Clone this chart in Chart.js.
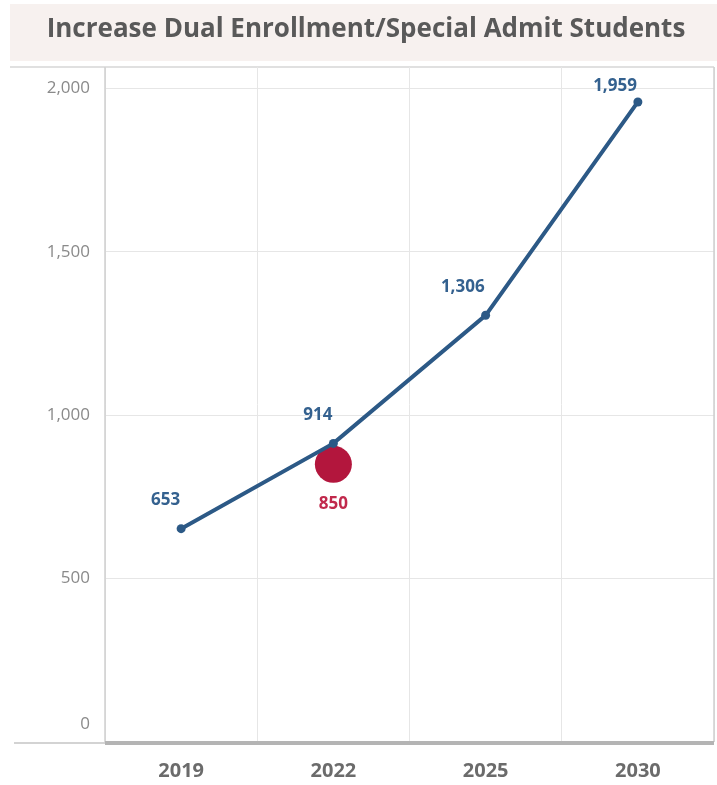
<!DOCTYPE html>
<html>
<head>
<meta charset="utf-8">
<script src="https://cdn.jsdelivr.net/npm/chart.js@4/dist/chart.umd.min.js"></script>
<style>
  html, body { margin: 0; padding: 0; background: #fff; }
  #wrap { width: 717px; height: 785px; }
</style>
</head>
<body>
<div id="wrap"><canvas id="chart" width="717" height="785"></canvas></div>
<script>
// chart data
const title = "Increase Dual Enrollment/Special Admit Students";
const years = ["2019", "2022", "2025", "2030"];
const enrollment = [653, 914, 1306, 1959];
const actual = [null, 850, null, null];
const yTicks = [0, 500, 1000, 1500, 2000];

const blue = "#2c5986";
const red = "#b3163d";
const tickFont = { family: "Open Sans", size: 17 };

// title band + frame + value labels
const decor = {
  id: "decor",
  beforeDraw(chart) {
    const { ctx, chartArea } = chart;
    ctx.save();
    ctx.fillStyle = "#f7f1ef";
    ctx.fillRect(10, 4, 707, 57);
    ctx.fillStyle = "#595959";
    ctx.font = "bold 26px 'Open Sans'";
    ctx.textAlign = "center";
    ctx.textBaseline = "middle";
    ctx.fillText(title, 366, 30);
    // separator under title
    ctx.strokeStyle = "#d6d6d6";
    ctx.lineWidth = 1.5;
    ctx.beginPath();
    ctx.moveTo(10, chartArea.top);
    ctx.lineTo(chartArea.right, chartArea.top);
    ctx.stroke();
    ctx.restore();
  },
  afterDraw(chart) {
    const { ctx, chartArea } = chart;
    ctx.save();
    // frame
    ctx.strokeStyle = "#d0d0d0";
    ctx.lineWidth = 1.5;
    ctx.beginPath();
    ctx.moveTo(chartArea.left, chartArea.top);
    ctx.lineTo(chartArea.left, chartArea.bottom);
    ctx.moveTo(chartArea.right, chartArea.top);
    ctx.lineTo(chartArea.right, chartArea.bottom);
    ctx.stroke();
    // bottom axis
    ctx.strokeStyle = "#c4c4c4";
    ctx.lineWidth = 1.5;
    ctx.beginPath();
    ctx.moveTo(14, chartArea.bottom + 1);
    ctx.lineTo(chartArea.left, chartArea.bottom + 1);
    ctx.stroke();
    ctx.strokeStyle = "#b4b4b4";
    ctx.lineWidth = 4;
    ctx.beginPath();
    ctx.moveTo(chartArea.left, chartArea.bottom + 1);
    ctx.lineTo(chartArea.right, chartArea.bottom + 1);
    ctx.stroke();

    // zero label sits above the axis line
    const ys = chart.scales.y;
    ctx.fillStyle = "#8a8a8a";
    ctx.font = tickFont.size + "px 'Open Sans'";
    ctx.textAlign = "right";
    ctx.textBaseline = "middle";
    ctx.fillText("0", chartArea.left - 15, ys.getPixelForValue(0) - 18);

    ctx.font = "bold 17px 'Open Sans'";
    const m0 = chart.getDatasetMeta(0);
    m0.data.forEach((pt, i) => {
      ctx.fillStyle = "#34618f";
      ctx.textAlign = "right";
      const y = Math.max(pt.y - 28, chartArea.top + 19);
      ctx.fillText(enrollment[i].toLocaleString("en-US"), pt.x - 1, y);
    });
    const m1 = chart.getDatasetMeta(1);
    m1.data.forEach((pt, i) => {
      if (actual[i] == null) return;
      ctx.fillStyle = "#c1294c";
      ctx.textAlign = "center";
      ctx.fillText(actual[i].toLocaleString("en-US"), pt.x, pt.y + 40);
    });
    ctx.restore();
  }
};

new Chart(document.getElementById("chart"), {
  type: "line",
  data: {
    labels: years,
    datasets: [
      {
        label: "Target",
        data: enrollment,
        borderColor: blue,
        backgroundColor: blue,
        borderWidth: 4,
        pointRadius: 4.5,
        pointBorderWidth: 0,
        tension: 0
      },
      {
        label: "Actual",
        data: actual,
        showLine: false,
        backgroundColor: red,
        borderColor: red,
        pointRadius: 18.5,
        pointBorderWidth: 0
      }
    ]
  },
  options: {
    responsive: false,
    animation: false,
    layout: { autoPadding: false, padding: { top: 67, right: 3, left: 0, bottom: 0 } },
    plugins: {
      legend: { display: false },
      tooltip: { enabled: false }
    },
    scales: {
      x: {
        offset: true,
        afterFit: s => { s.height = 43; },
        grid: { offset: true, color: "#e6e6e6", drawTicks: false },
        border: { display: false },
        ticks: { color: "#6b6b6b", font: { family: "Open Sans", size: 20, weight: "bold" }, padding: 17 }
      },
      y: {
        min: 0,
        max: 2066,
        afterFit: s => { s.width = 105; },
        afterBuildTicks: s => { s.ticks = yTicks.map(v => ({ value: v })); },
        grid: { color: "#e6e6e6", drawTicks: false },
        border: { display: false },
        ticks: {
          color: "#8a8a8a",
          font: tickFont,
          padding: 15,
          callback: v => (v === 0 ? "" : v.toLocaleString("en-US"))
        }
      }
    }
  },
  plugins: [decor]
});
</script>
</body>
</html>
